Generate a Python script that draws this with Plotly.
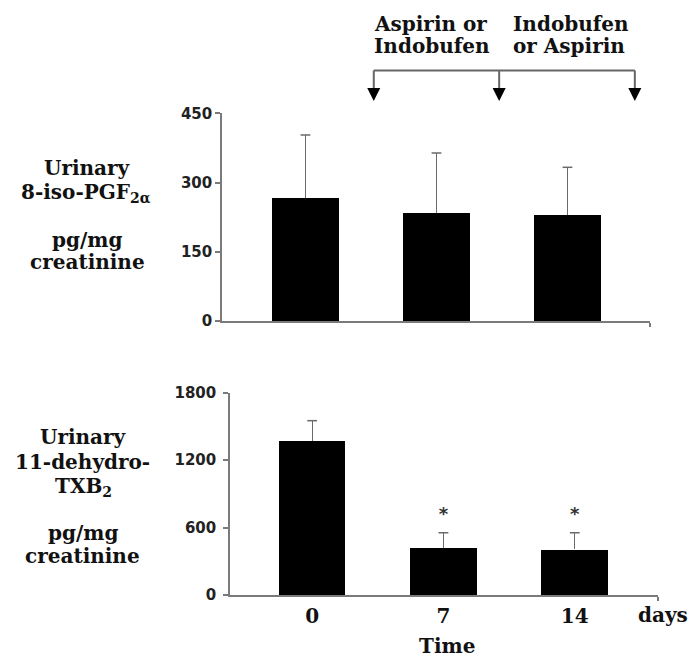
import plotly.graph_objects as go

# Time points (days) and urinary measurements (mean, SD)
days = [0, 7, 14]
iso_mean = [266, 233, 230]
iso_sd = [137, 131, 103]
txb_mean = [1370, 421, 406]
txb_sd = [181, 133, 148]
txb_sig = ["", "*", "*"]

iso_ticks = [0, 150, 300, 450]
txb_ticks = [0, 600, 1200, 1800]

W, H = 690, 659
AXIS = "#7a7a7a"
ERR = "#6a6a6a"
SERIF = dict(family="DejaVu Serif", size=20, color="#111111", weight="bold")
SANS = dict(family="DejaVu Sans", size=15, color="#222222", weight="bold")


def px(x):
    return x / W


def py(y):
    return 1 - y / H


fig = go.Figure()


def add_panel(mean, sd, xa, ya):
    # bars with an upper SD whisker (no cap at the bar top)
    fig.add_trace(go.Bar(
        x=days, y=mean, width=3.55, marker=dict(color="black", line=dict(width=0)),
        error_y=dict(type="data", array=sd, arrayminus=[0] * len(sd), symmetric=False,
                     color=ERR, thickness=1.3, width=0),
        xaxis=xa, yaxis=ya, showlegend=False,
    ))
    # whisker caps at mean + SD
    fig.add_trace(go.Scatter(
        x=days, y=[m + s for m, s in zip(mean, sd)], mode="markers",
        marker=dict(symbol="line-ew", size=7, line=dict(color=ERR, width=1.5)),
        xaxis=xa, yaxis=ya, showlegend=False, hoverinfo="skip", cliponaxis=False,
    ))


add_panel(iso_mean, iso_sd, "x", "y")
add_panel(txb_mean, txb_sd, "x2", "y2")

# significance markers above the treated time points
sig = [(d, m + s + 150, t) for d, m, s, t in zip(days, txb_mean, txb_sd, txb_sig) if t]
fig.add_trace(go.Scatter(
    x=[p[0] for p in sig], y=[p[1] for p in sig], text=[p[2] for p in sig],
    mode="text", textposition="middle center",
    textfont=dict(family="DejaVu Sans", size=18, color="#333333", weight="bold"),
    xaxis="x2", yaxis="y2", showlegend=False, cliponaxis=False,
))

common_x = dict(showgrid=False, zeroline=False, showline=True, linecolor=AXIS,
                linewidth=1.5, ticks="", fixedrange=True, automargin=False)
common_y = dict(showgrid=False, zeroline=False, showline=True, linecolor=AXIS,
                linewidth=1.5, ticks="outside", ticklen=5, tickcolor=AXIS,
                tickwidth=1.5, tickfont=SANS, fixedrange=True, automargin=False)

top_range = [-4.46, 18.41]
bot_range = [-4.38, 18.44]

fig.update_layout(
    width=W, height=H,
    margin=dict(l=0, r=0, t=0, b=0, pad=0, autoexpand=False),
    paper_bgcolor="white", plot_bgcolor="white", bargap=0,
    xaxis=dict(common_x, domain=[px(222), px(650)], range=top_range,
               showticklabels=False, anchor="y",
               minor=dict(tickvals=[top_range[1]], ticks="outside", ticklen=4,
                          tickcolor=AXIS, tickwidth=1.5)),
    yaxis=dict(common_y, domain=[py(321), py(113.3)], range=[0, 450],
               tickvals=iso_ticks, anchor="x"),
    xaxis2=dict(common_x, domain=[px(230), px(658)], range=bot_range,
                tickvals=days, ticktext=[str(d) for d in days], tickfont=SERIF,
                anchor="y2", ticklabelstandoff=2,
                minor=dict(tickvals=[bot_range[1]], ticks="outside", ticklen=4,
                           tickcolor=AXIS, tickwidth=1.5)),
    yaxis2=dict(common_y, domain=[py(595), py(392.7)], range=[0, 1800],
                tickvals=txb_ticks, anchor="x2", ticklabelstandoff=4),
)

annotations = []


def label(text, x, y, xanchor="center", yanchor="middle"):
    annotations.append(dict(
        text=text, x=px(x), y=py(y), xref="paper", yref="paper",
        xanchor=xanchor, yanchor=yanchor, showarrow=False, font=SERIF,
        borderpad=0,
    ))


# y-axis titles
label("Urinary", 87, 168)
label("8-iso-PGF<sub>2α</sub>", 86, 193)
label("pg/mg", 87, 240)
label("creatinine", 87, 262)

label("Urinary", 83, 437)
label("11-dehydro-", 82, 462)
label("TXB<sub>2</sub>", 83, 487)
label("pg/mg", 83, 533)
label("creatinine", 82, 556)

# x-axis unit and title
label("days", 663, 615)
label("Time", 447, 659, yanchor="bottom")

# treatment periods
label("Aspirin or", 373, 24, xanchor="left")
label("Indobufen", 373, 46, xanchor="left")
label("Indobufen", 512, 24, xanchor="left")
label("or Aspirin", 512, 46, xanchor="left")

fig.update_layout(annotations=annotations)

# bracket with downward arrows marking treatment switches
arrow_days = [3.65, 10.35, 17.6]
line_style = dict(color="#666666", width=2)
shapes = [dict(type="line", xref="x", yref="paper",
               x0=arrow_days[0], x1=arrow_days[-1], y0=py(70.5), y1=py(70.5),
               line=line_style)]
half = 6.5 / 18.71
for d in arrow_days:
    shapes.append(dict(type="line", xref="x", yref="paper",
                       x0=d, x1=d, y0=py(70.5), y1=py(90), line=line_style))
    shapes.append(dict(
        type="path", xref="x", yref="paper",
        path=f"M {d - half},{py(88)} L {d + half},{py(88)} L {d},{py(101)} Z",
        fillcolor="black", line=dict(width=0),
    ))
fig.update_layout(shapes=shapes)

fig.write_html("out.html")
